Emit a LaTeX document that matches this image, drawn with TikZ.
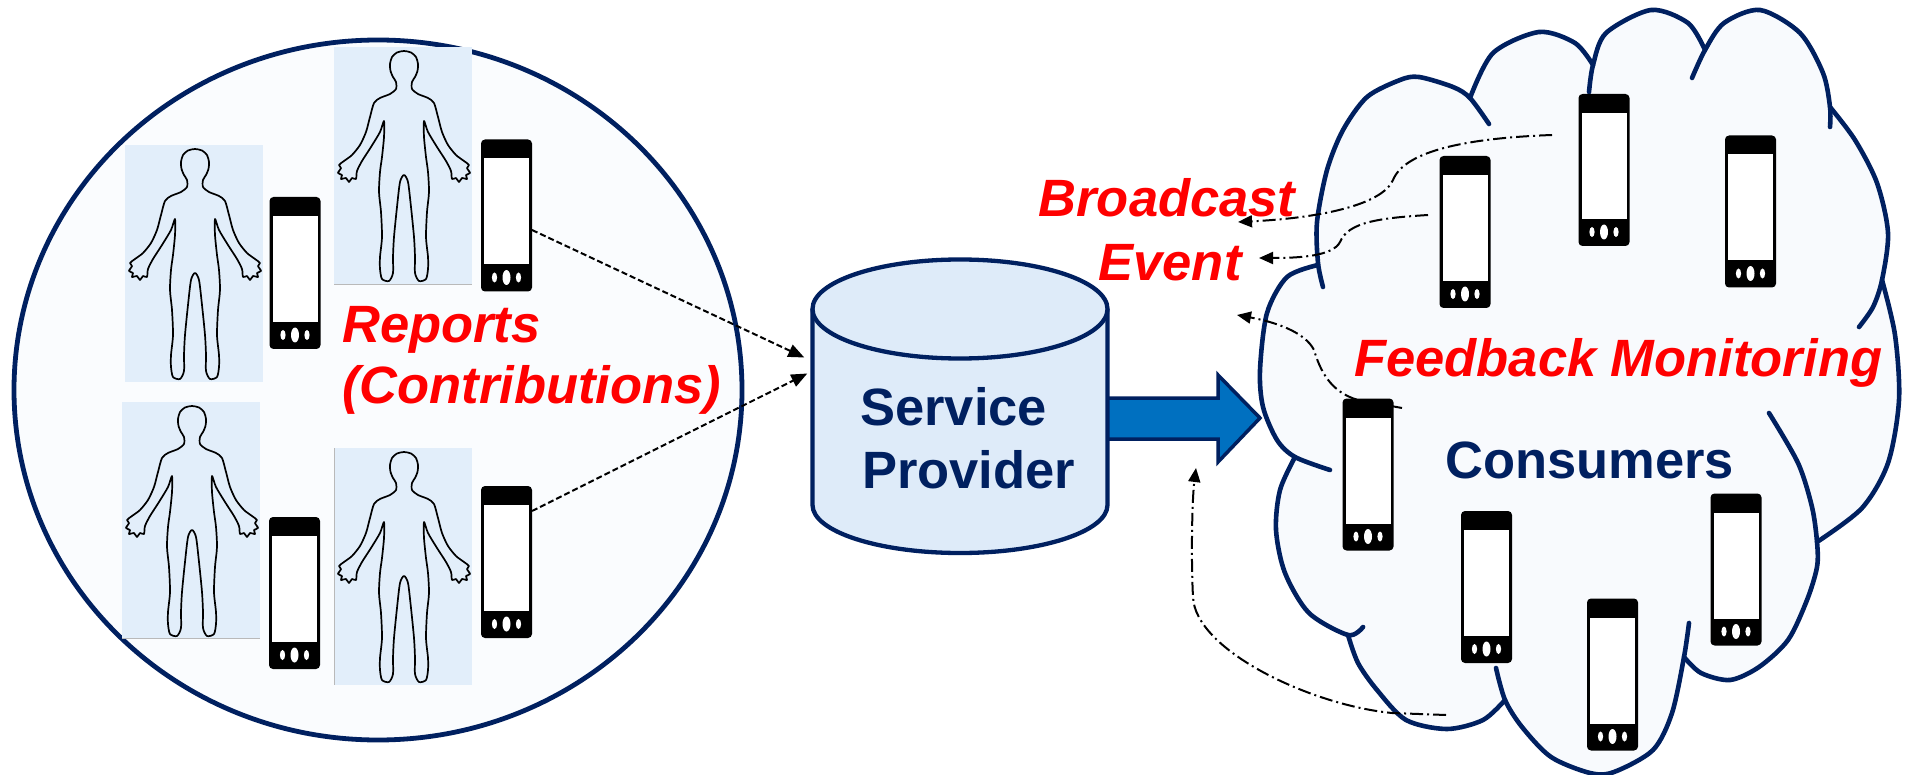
\documentclass[tikz,border=0pt]{standalone}
\usepackage{fontspec}
\setmainfont{Liberation Sans}
\usetikzlibrary{calc,arrows.meta,shapes.geometric}

\definecolor{navy}{HTML}{002060}
\definecolor{ellfill}{HTML}{FAFCFE}
\definecolor{cloudfill}{HTML}{F8FAFD}
\definecolor{bodybg}{HTML}{E2EEFA}
\definecolor{cylfill}{HTML}{DEEBF9}
\definecolor{arrowblue}{HTML}{0070C0}
\definecolor{redtext}{HTML}{FF0000}

\newcommand{\redlabel}{\fontsize{52.5pt}{62pt}\selectfont\bfseries\itshape}
\newcommand{\navylabel}{\fontsize{52.5pt}{62pt}\selectfont\bfseries}

\tikzset{
  phone/.style={fill=black, rounded corners=4pt, minimum width=51pt, minimum height=152pt,
    inner sep=0pt, outer sep=0pt,
    path picture={
      \fill[white, sharp corners] ($(path picture bounding box.north west)+(3pt,-19pt)$)
        rectangle ($(path picture bounding box.south east)+(-3pt,27pt)$);
      \fill[white] ($(path picture bounding box.south)+(0pt,14pt)$) ellipse[x radius=4pt, y radius=7.5pt];
      \fill[white] ($(path picture bounding box.south)+(-12pt,14pt)$) ellipse[x radius=2.6pt, y radius=5pt];
      \fill[white] ($(path picture bounding box.south)+(12pt,14pt)$) ellipse[x radius=2.6pt, y radius=5pt];
    }},
  person/.pic={
    \fill[bodybg] (0,0) rectangle (138,237);
    \draw[black, line width=1.7pt, line join=round]
      plot[smooth cycle, tension=0.45] coordinates {
        (70,4) (63,5.5) (58,10) (56,17) (56.5,24) (59,30) (62,35) (62,42) (56,47) (46,51)
        (40,56) (36,70) (32,85) (26,98) (18,108) (10,114) (5,118) (7,121) (4,126) (8,128)
        (7,132) (12,131) (15,135) (18,131) (22,132) (23,124) (28,114) (37,100) (46,85) (50,74)
        (50,90) (48,110) (46,125) (45,145) (47,165) (48,190) (46,210) (46,222) (48,232) (55,234)
        (59,226) (59,210) (60,190) (63,160) (66,135) (70,128)
        (74,135) (77,160) (80,190) (81,210) (81,226) (85,234) (92,232) (94,222) (94,210) (92,190)
        (93,165) (95,145) (94,125) (92,110) (90,90) (90,74) (94,85) (103,100) (112,114) (117,124)
        (118,132) (122,131) (125,135) (128,131) (133,132) (132,128) (136,126) (133,121) (135,118) (130,114)
        (122,108) (114,98) (108,85) (104,70) (100,56) (94,51) (84,47) (78,42) (78,35) (81,30)
        (83.5,24) (84,17) (82,10) (77,5.5)};
  },
  report/.style={dash pattern=on 6pt off 3pt, line width=2pt,
    -{Triangle[length=16pt, width=13pt]}},
  feedback/.style={dash pattern=on 13pt off 4pt on 2pt off 4pt, line width=2pt,
    -{Triangle[length=14pt, width=12pt]}},
  lobe/.style={draw=navy, line width=4.6pt, line cap=round},
}

\begin{document}
\begin{tikzpicture}[x=1pt, y=-1pt]
\useasboundingbox (0,0) rectangle (1908,775);
\fill[white] (0,0) rectangle (1908,775);

% contributors' group
\node[ellipse, draw=navy, line width=4.8pt, fill=ellfill, minimum width=728pt,
      minimum height=700pt, inner sep=0pt] (group) at (378,390) {};

\pic at (125,145) {person};
\pic at (334,47) {person};
\pic at (122,402) {person};
\pic at (334,448) {person};
\draw[gray!55, line width=0.8pt] (334,284) -- (472,284);
\draw[gray!55, line width=0.8pt] (122,638) -- (260,638);
\draw[gray!55, line width=0.8pt] (334,448) -- (334,685);

\node[phone] (p1) at (295,273) {};
\node[phone] (p2) at (506.5,215.5) {};
\node[phone] (p3) at (294.5,593) {};
\node[phone] (p4) at (506.5,562) {};

% broadcast arrow towards the consumers
\draw[navy, line width=3.5pt, fill=arrowblue, line join=miter]
  (1100,398) -- (1218,398) -- (1218,375) -- (1260,418) -- (1218,462) -- (1218,439) -- (1100,439) -- cycle;

% service provider cylinder
\node[minimum width=295pt, minimum height=295pt, inner sep=0pt] (sp) at (960,405.5) {};
\fill[cylfill] (812.5,309) -- (812.5,505)
  .. controls (812.5,531.5) and (878.5,553) .. (960,553)
  .. controls (1041.5,553) and (1107.5,531.5) .. (1107.5,505) -- (1107.5,309) -- cycle;
\draw[navy, line width=4.3pt] (812.5,309) -- (812.5,505)
  .. controls (812.5,531.5) and (878.5,553) .. (960,553)
  .. controls (1041.5,553) and (1107.5,531.5) .. (1107.5,505) -- (1107.5,309);
\draw[navy, line width=4.3pt, fill=cylfill] (960,309) ellipse[x radius=147.5, y radius=49.5];
\node[anchor=base west, text=navy, font=\navylabel, inner sep=0pt] (sp1) at (860,425) {Service};
\node[anchor=base west, text=navy, font=\navylabel, inner sep=0pt] (sp2) at (862,488) {Provider};

% consumers' cloud
\fill[cloudfill]
  plot[smooth] coordinates {(1318,263) (1317,222) (1327,170) (1343,130) (1367,97) (1400,80) (1419,77) (1453,87) (1470,98)}
  -- plot[smooth] coordinates {(1470,98) (1493,53) (1539,32) (1575,43) (1593,65)}
  -- plot[smooth] coordinates {(1593,65) (1606,33) (1651,10) (1688,23) (1705,50)}
  -- plot[smooth] coordinates {(1705,50) (1724,23) (1760,10) (1800,33) (1823,73) (1830,107)}
  -- plot[smooth] coordinates {(1830,107) (1855,140) (1877,183) (1888,233) (1882,280)}
  -- plot[smooth] coordinates {(1882,280) (1895,335) (1899,400) (1888,463) (1862,508) (1817,542)}
  -- plot[smooth] coordinates {(1817,542) (1817,567) (1807,600) (1788,640) (1759,667) (1730,680) (1701,673) (1684,657)}
  -- plot[smooth] coordinates {(1684,657) (1672,713) (1653,750) (1614,772) (1590,773) (1551,757) (1522,727) (1505,700)}
  -- plot[smooth] coordinates {(1505,700) (1483,720) (1447,729) (1406,720) (1377,690) (1358,663) (1348,635)}
  -- plot[smooth] coordinates {(1348,635) (1309,613) (1285,573) (1276,530) (1280,490) (1295,457)}
  -- plot[smooth] coordinates {(1295,457) (1277,440) (1263,407) (1260,370) (1267,313) (1287,277) (1318,265)}
  -- cycle;
\draw[lobe] plot[smooth] coordinates {(1323,287) (1318,263) (1317,222) (1327,170) (1343,130) (1367,97) (1400,80) (1419,77) (1453,87) (1470,98) (1489,124)};
\draw[lobe] plot[smooth] coordinates {(1470,98) (1493,53) (1539,32) (1575,43) (1593,65)};
\draw[lobe] plot[smooth] coordinates {(1589,92) (1593,65) (1606,33) (1651,10) (1688,23) (1705,50)};
\draw[lobe] plot[smooth] coordinates {(1692,78) (1705,50) (1724,23) (1760,10) (1800,33) (1823,73) (1830,107) (1830,127)};
\draw[lobe] plot[smooth] coordinates {(1830,107) (1855,140) (1877,183) (1888,233) (1882,280) (1873,307) (1859,327)};
\draw[lobe] plot[smooth] coordinates {(1882,280) (1895,335) (1899,400) (1888,463) (1862,508) (1817,542)};
\draw[lobe] plot[smooth] coordinates {(1769,413) (1798,463) (1812,507) (1817,542) (1817,567) (1807,600) (1788,640) (1759,667) (1730,680) (1701,673) (1684,657)};
\draw[lobe] plot[smooth] coordinates {(1689,623) (1684,657) (1672,713) (1653,750) (1614,772) (1590,773) (1551,757) (1522,727) (1505,700) (1496,668)};
\draw[lobe] plot[smooth] coordinates {(1505,700) (1483,720) (1447,729) (1406,720) (1377,690) (1358,663) (1348,635)};
\draw[lobe] plot[smooth] coordinates {(1363,627) (1348,635) (1309,613) (1285,573) (1276,530) (1280,490) (1295,457)};
\draw[lobe] plot[smooth] coordinates {(1330,470) (1295,457) (1277,440) (1263,407) (1260,370) (1267,313) (1287,277) (1318,265)};

% feedback paths from consumers
\coordinate (s1) at (1552,135);
\coordinate (t1) at (1238,222);
\coordinate (s2) at (1428,215);
\coordinate (t2) at (1259,258);
\coordinate (s3) at (1402,408);
\coordinate (t3) at (1237,315);
\coordinate (s4) at (1446,715);
\coordinate (t4) at (1196,468);
\draw[feedback] (s1) .. controls (1470,138) and (1405,150) .. (1393,180)
  .. controls (1382,205) and (1320,218) .. (t1);
\draw[feedback] (s2) .. controls (1380,218) and (1348,222) .. (1340,242)
  .. controls (1333,256) and (1300,258) .. (t2);
\draw[feedback] (s3) -- (1358,400) .. controls (1330,392) and (1320,370) .. (1314,350)
  .. controls (1305,332) and (1275,322) .. (t3);
\draw[feedback] (s4) -- (1392,713) .. controls (1310,705) and (1195,650) .. (1193,597)
  .. controls (1191,560) and (1192,500) .. (t4);

\node[phone] (pA) at (1465,232) {};
\node[phone] (pB) at (1604,170) {};
\node[phone] (pC) at (1750.5,211.5) {};
\node[phone] (pD) at (1368,474.5) {};
\node[phone] (pE) at (1486.5,587) {};
\node[phone] (pF) at (1612.5,674.5) {};
\node[phone] (pG) at (1736,569.5) {};

% reports sent to the provider
\draw[report] ($(p2.east)+(0,14.5)$) -- ($(sp.west)+(-8,-48)$);
\draw[report] ($(p4.east)+(0,-51)$) -- ($(sp.west)+(-5,-32)$);

% labels
\node[anchor=base west, text=redtext, font=\redlabel, inner sep=0pt] (rep) at (342,342) {Reports};
\node[anchor=base west, text=redtext, font=\redlabel, inner sep=0pt] (contrib) at (342,403) {(Contributions)};
\node[anchor=base, text=redtext, font=\redlabel, inner sep=0pt] (bc) at (1167,217) {Broadcast};
\node[anchor=base, text=redtext, font=\redlabel, inner sep=0pt] (ev) at (1170,281) {Event};
\node[anchor=base west, text=redtext, font=\redlabel, inner sep=0pt] (fm) at (1354,377) {Feedback Monitoring};
\node[anchor=base west, text=navy, font=\navylabel, inner sep=0pt] (cons) at (1445,478) {Consumers};
\end{tikzpicture}
\end{document}
